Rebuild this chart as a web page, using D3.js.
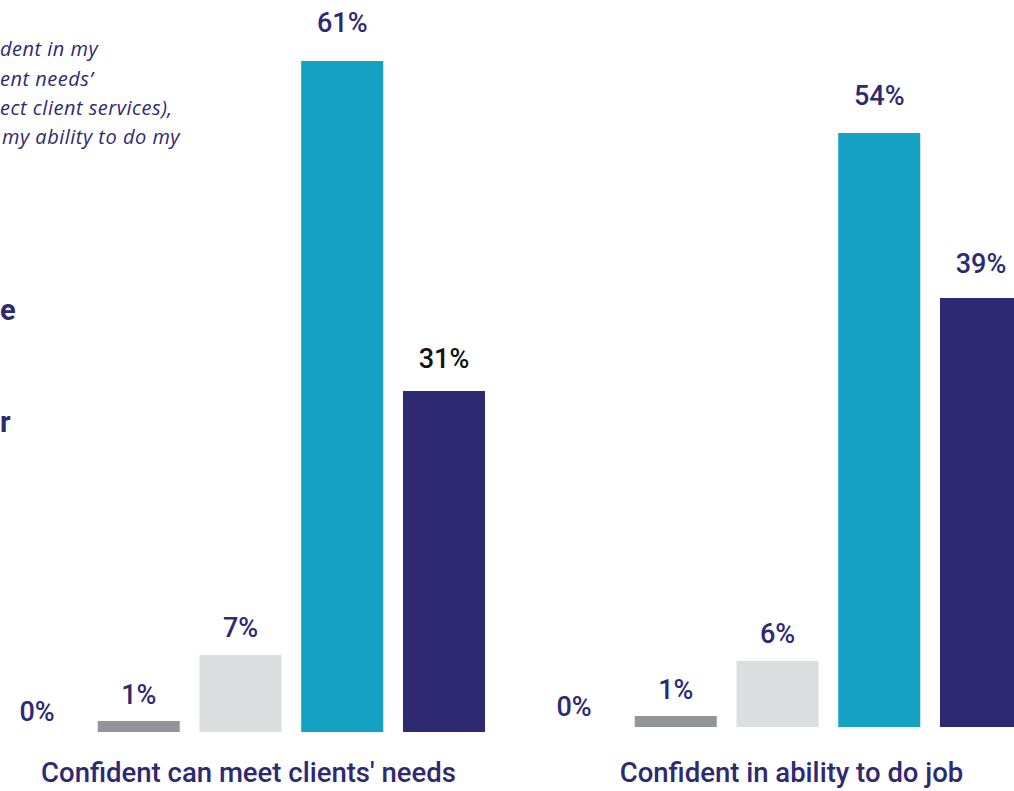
<!DOCTYPE html>
<html>
<head>
<meta charset="utf-8">
<script src="https://cdn.jsdelivr.net/npm/d3@7"></script>
<style>
  html, body { margin: 0; padding: 0; background: #ffffff; }
  svg { display: block; }
</style>
</head>
<body>
<svg id="chart" width="1014" height="791"></svg>
<script>
// Survey responses, percentage of respondents per answer
const groups = ["Confident can meet clients' needs", "Confident in ability to do job"];
const responses = ["Strongly disagree", "Disagree", "Neither", "Agree", "Strongly agree"];
const clientNeeds = [0, 1, 7, 61, 31];
const abilityToDoJob = [0, 1, 6, 54, 39];
const valueLabels = [["0%", "1%", "7%", "61%", "31%"], ["0%", "1%", "6%", "54%", "39%"]];
// Tail ends of the note and legend lines that run in from the left
const noteLines = ["dent in my", "ent needs\u2019", "ect client services),", "my ability to do my"];
const legendEnds = ["e", "r"];

const seriesByGroup = [clientNeeds, abilityToDoJob];
const colors = ["#939598", "#939598", "#dcdddf", "#14a1c4", "#2e2a72"];
const navy = "#2e2a72";

const svg = d3.select("#chart");

// Group and response scales
const x0 = d3.scaleBand().domain(groups).range([-4, 1022]).paddingInner(48 / 537);
const x1 = d3.scaleBand().domain(responses).range([0, x0.bandwidth()]).paddingInner(0.194);

const baselines = [732, 727];
const pxPerPct = 11.0;

groups.forEach((grp, gi) => {
  const base = baselines[gi];
  const y = d3.scaleLinear().domain([0, 100]).range([base, base - 100 * pxPerPct]);
  const g = svg.append("g").attr("transform", `translate(${x0(grp)},0)`);
  const vals = seriesByGroup[gi];
  const rows = vals.map((v, i) => ({ v, r: responses[i], i }));

  g.selectAll("rect")
    .data(rows.filter(d => d.v > 0))
    .join("rect")
    .attr("x", d => x1(d.r))
    .attr("width", x1.bandwidth())
    .attr("y", d => y(d.v))
    .attr("height", d => y(0) - y(d.v))
    .attr("fill", d => colors[d.i]);

  g.selectAll("text.val")
    .data(rows)
    .join("text")
    .attr("class", "val")
    .attr("x", d => x1(d.r) + x1.bandwidth() / 2)
    .attr("y", d => y(d.v) - (d.v === 0 ? 11 : 17 + d.v * 0.2))
    .attr("text-anchor", "middle")
    .attr("font-family", "Roboto, sans-serif")
    .attr("font-weight", 500)
    .attr("font-size", 27)
    .attr("fill", d => (gi === 0 && d.i === 4) ? "#111111" : navy)
    .text(d => valueLabels[gi][d.i]);

  // Category label under each group
  g.append("text")
    .attr("x", x0.bandwidth() / 2 + (gi === 0 ? 8 : 14))
    .attr("y", 782)
    .attr("text-anchor", "middle")
    .attr("font-family", "Roboto, sans-serif")
    .attr("font-weight", 500)
    .attr("font-size", 27.5)
    .attr("fill", navy)
    .text(grp);
});

// Note text at the top left
const noteLeft = [0, 0, 0, 2];
const noteBase = [56, 86, 115, 144];
svg.selectAll("text.note")
  .data(noteLines)
  .join("text")
  .attr("class", "note")
  .attr("x", (d, i) => noteLeft[i])
  .attr("y", (d, i) => noteBase[i])
  .attr("font-family", "'Open Sans', sans-serif")
  .attr("font-style", "italic")
  .attr("font-size", 20)
  .attr("letter-spacing", 0.5)
  .attr("fill", navy)
  .text(d => d);

// Legend label endings
const legendBase = [320, 432];
svg.selectAll("text.leg")
  .data(legendEnds)
  .join("text")
  .attr("class", "leg")
  .attr("x", 0)
  .attr("y", (d, i) => legendBase[i])
  .attr("font-family", "Roboto, sans-serif")
  .attr("font-weight", 700)
  .attr("font-size", 29)
  .attr("fill", navy)
  .text(d => d);
</script>
</body>
</html>
